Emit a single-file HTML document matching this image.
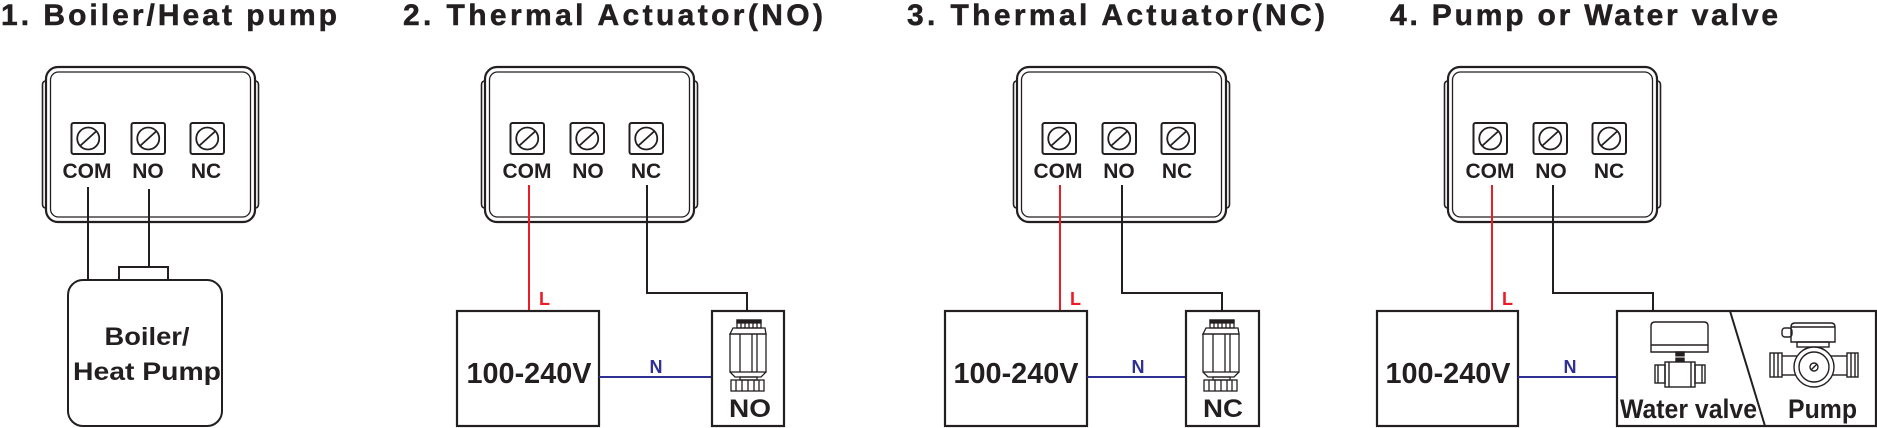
<!DOCTYPE html>
<html><head><meta charset="utf-8">
<style>
html,body{margin:0;padding:0;background:#fff;}
svg{display:block;}
text{font-family:"Liberation Sans",Arial,sans-serif;font-weight:bold;fill:#231f20;}
.ttl{stroke:#231f20;stroke-width:0.5;}
</style></head><body>
<svg width="1877" height="428" viewBox="0 0 1877 428" xmlns="http://www.w3.org/2000/svg">
<defs>
<g id="term">
 <rect x="0" y="0" width="33.5" height="31" rx="2" fill="none" stroke="#231f20" stroke-width="2"/>
 <circle cx="16.75" cy="15.5" r="11" fill="none" stroke="#231f20" stroke-width="1.8"/>
 <line x1="9" y1="22.5" x2="24.5" y2="8.5" stroke="#231f20" stroke-width="1.8"/>
</g>
<g id="ctrl">
 <rect x="0" y="67" width="209" height="155" rx="12" fill="none" stroke="#231f20" stroke-width="2.2"/>
 <rect x="4.5" y="72" width="200" height="145" rx="8" fill="none" stroke="#231f20" stroke-width="1.3"/>
 <path d="M0,81 Q-3.5,81 -3.5,85 L-3.5,204 Q-3.5,208 0,208" fill="none" stroke="#231f20" stroke-width="1.6"/>
 <path d="M209,81 Q212.5,81 212.5,85 L212.5,204 Q212.5,208 209,208" fill="none" stroke="#231f20" stroke-width="1.6"/>
 <use href="#term" x="25.5" y="123"/>
 <use href="#term" x="85.5" y="123"/>
 <use href="#term" x="144.5" y="123"/>
</g>
<g id="act" fill="none" stroke="#231f20" stroke-width="1.3">
 <rect x="25" y="320" width="24" height="8" fill="#fff"/>
 <path d="M25,320 h24 v3 h-24 z" fill="#231f20"/>
 <line x1="29" y1="320" x2="29" y2="328"/><line x1="33" y1="320" x2="33" y2="328"/><line x1="37" y1="320" x2="37" y2="328"/><line x1="41" y1="320" x2="41" y2="328"/><line x1="45" y1="320" x2="45" y2="328"/>
 <path d="M21,328 H53 L54,334 H18 Z"/>
 <rect x="18" y="334" width="36" height="38"/>
 <line x1="28" y1="334" x2="28" y2="372"/><line x1="40" y1="334" x2="40" y2="372"/><line x1="45" y1="334" x2="45" y2="372"/>
 <path d="M18,372 L23,377 H49 L54,372"/>
 <rect x="28" y="377" width="17" height="3"/>
 <rect x="19" y="380" width="33" height="11"/>
 <line x1="24" y1="380" x2="24" y2="391"/><line x1="30" y1="380" x2="30" y2="391"/><line x1="36" y1="380" x2="36" y2="391"/><line x1="42" y1="380" x2="42" y2="391"/><line x1="47" y1="380" x2="47" y2="391"/>
</g>
</defs>

<!-- Titles -->
<text class="ttl" x="1" y="25" font-size="30" textLength="336" lengthAdjust="spacing">1. Boiler/Heat pump</text>
<text class="ttl" x="403" y="25" font-size="30" textLength="420" lengthAdjust="spacing">2. Thermal Actuator(NO)</text>
<text class="ttl" x="907" y="25" font-size="30" textLength="418" lengthAdjust="spacing">3. Thermal Actuator(NC)</text>
<text class="ttl" x="1390" y="25" font-size="30" textLength="388" lengthAdjust="spacing">4. Pump or Water valve</text>

<!-- Controllers -->
<use href="#ctrl" x="46" y="0"/>
<use href="#ctrl" x="485" y="0"/>
<use href="#ctrl" x="1017" y="0"/>
<use href="#ctrl" x="1448" y="0"/>

<!-- Terminal labels -->
<g font-size="21" text-anchor="middle">
<text x="87" y="178">COM</text><text x="148" y="178">NO</text><text x="206" y="178">NC</text>
<text x="527" y="178">COM</text><text x="588" y="178">NO</text><text x="646" y="178">NC</text>
<text x="1058" y="178">COM</text><text x="1119" y="178">NO</text><text x="1177" y="178">NC</text>
<text x="1490" y="178">COM</text><text x="1551" y="178">NO</text><text x="1609" y="178">NC</text>
</g>

<!-- Panel 1 -->
<g fill="none" stroke="#231f20" stroke-width="2">
 <line x1="88" y1="187" x2="88" y2="281"/>
 <line x1="149" y1="189" x2="149" y2="267"/>
 <rect x="119" y="267" width="49" height="13"/>
 <rect x="68" y="280" width="154" height="146" rx="15" fill="#fff"/>
</g>
<text x="147" y="345" font-size="25" text-anchor="middle" textLength="85" lengthAdjust="spacingAndGlyphs">Boiler/</text>
<text x="147" y="380" font-size="25" text-anchor="middle" textLength="148" lengthAdjust="spacingAndGlyphs">Heat Pump</text>

<!-- Panel 2 -->
<line x1="529" y1="185" x2="529" y2="311" stroke="#ed1c24" stroke-width="2"/>
<text x="539" y="305" font-size="18" style="fill:#ed1c24">L</text>
<path d="M647,185 V293 H747 V311" fill="none" stroke="#231f20" stroke-width="2"/>
<rect x="457" y="311" width="142" height="115" fill="none" stroke="#231f20" stroke-width="2.2"/>
<text x="529" y="383" font-size="28.5" text-anchor="middle" textLength="125" lengthAdjust="spacingAndGlyphs">100-240V</text>
<line x1="599" y1="377" x2="712" y2="377" stroke="#2e3192" stroke-width="2"/>
<text x="656" y="373" font-size="18" text-anchor="middle" style="fill:#2e3192">N</text>
<rect x="712" y="311" width="72" height="115" fill="none" stroke="#231f20" stroke-width="2.2"/>
<use href="#act" x="712" y="0"/>
<text x="750" y="417" font-size="25" text-anchor="middle" textLength="42" lengthAdjust="spacingAndGlyphs">NO</text>

<!-- Panel 3 -->
<line x1="1060" y1="185" x2="1060" y2="311" stroke="#ed1c24" stroke-width="2"/>
<text x="1070" y="305" font-size="18" style="fill:#ed1c24">L</text>
<path d="M1122,185 V293 H1222 V311" fill="none" stroke="#231f20" stroke-width="2"/>
<rect x="945" y="311" width="142" height="115" fill="none" stroke="#231f20" stroke-width="2.2"/>
<text x="1016" y="383" font-size="28.5" text-anchor="middle" textLength="125" lengthAdjust="spacingAndGlyphs">100-240V</text>
<line x1="1087" y1="377" x2="1186" y2="377" stroke="#2e3192" stroke-width="2"/>
<text x="1138" y="373" font-size="18" text-anchor="middle" style="fill:#2e3192">N</text>
<rect x="1186" y="311" width="73" height="115" fill="none" stroke="#231f20" stroke-width="2.2"/>
<use href="#act" x="1185" y="0"/>
<text x="1223" y="417" font-size="25" text-anchor="middle" textLength="40" lengthAdjust="spacingAndGlyphs">NC</text>

<!-- Panel 4 -->
<line x1="1492" y1="185" x2="1492" y2="311" stroke="#ed1c24" stroke-width="2"/>
<text x="1502" y="305" font-size="18" style="fill:#ed1c24">L</text>
<path d="M1553,185 V293 H1653 V311" fill="none" stroke="#231f20" stroke-width="2"/>
<rect x="1377" y="311" width="141" height="115" fill="none" stroke="#231f20" stroke-width="2.2"/>
<text x="1448" y="383" font-size="28.5" text-anchor="middle" textLength="125" lengthAdjust="spacingAndGlyphs">100-240V</text>
<line x1="1518" y1="377" x2="1617" y2="377" stroke="#2e3192" stroke-width="2"/>
<text x="1570" y="373" font-size="18" text-anchor="middle" style="fill:#2e3192">N</text>
<rect x="1617" y="311" width="259" height="115" fill="none" stroke="#231f20" stroke-width="2.2"/>
<line x1="1730" y1="311" x2="1765" y2="426" stroke="#231f20" stroke-width="2"/>

<!-- Water valve icon -->
<g fill="none" stroke="#231f20" stroke-width="1.4">
 <path d="M1651,352 V326 Q1651,322 1655,322 H1704 Q1708,322 1708,326 V352 Z"/>
 <line x1="1651" y1="345" x2="1708" y2="345"/>
 <rect x="1676" y="352" width="8" height="9" fill="#231f20"/>
 <line x1="1672" y1="357" x2="1688" y2="357" stroke="#fff" stroke-width="1"/>
 <rect x="1665" y="362" width="30" height="25"/>
 <rect x="1655" y="365" width="10" height="18"/>
 <rect x="1695" y="365" width="10" height="18"/>
 <line x1="1658" y1="365" x2="1658" y2="383"/>
 <line x1="1702" y1="365" x2="1702" y2="383"/>
 <line x1="1669" y1="362" x2="1669" y2="387"/>
 <line x1="1691" y1="362" x2="1691" y2="387"/>
</g>

<!-- Pump icon -->
<g fill="none" stroke="#231f20" stroke-width="1.4">
 <rect x="1782" y="328" width="10" height="9" rx="3"/>
 <path d="M1791,342 V327 Q1791,323 1795,323 H1831 Q1835,323 1835,327 V342 Z"/>
 <line x1="1791" y1="327" x2="1835" y2="327"/>
 <rect x="1797" y="342" width="32" height="5"/>
 <line x1="1782" y1="356" x2="1797" y2="356"/>
 <line x1="1782" y1="375" x2="1797" y2="375"/>
 <line x1="1831" y1="356" x2="1847" y2="356"/>
 <line x1="1831" y1="375" x2="1847" y2="375"/>
 <rect x="1770" y="353" width="12" height="24"/>
 <rect x="1847" y="353" width="11" height="24"/>
 <line x1="1774" y1="353" x2="1774" y2="377"/>
 <line x1="1778" y1="353" x2="1778" y2="377"/>
 <line x1="1851" y1="353" x2="1851" y2="377"/>
 <line x1="1855" y1="353" x2="1855" y2="377"/>
 <circle cx="1814" cy="367" r="20" fill="#fff"/>
 <circle cx="1814" cy="367" r="15"/>
 <circle cx="1814" cy="367" r="4"/>
 <line x1="1811" y1="370" x2="1817" y2="364"/>
</g>
<text x="1620" y="418" font-size="27" textLength="137" lengthAdjust="spacingAndGlyphs">Water valve</text>
<text x="1788" y="418" font-size="27" textLength="69" lengthAdjust="spacingAndGlyphs">Pump</text>
</svg>
</body></html>
